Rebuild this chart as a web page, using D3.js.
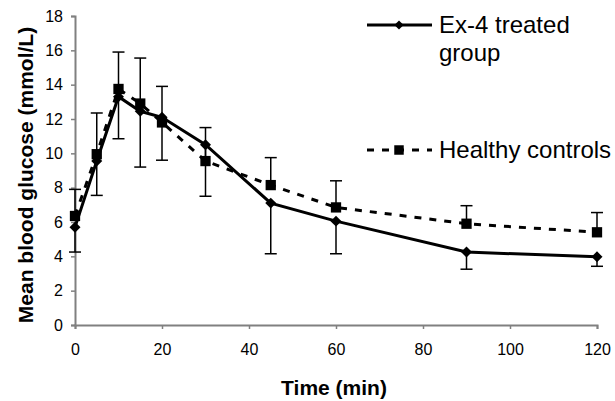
<!DOCTYPE html>
<html lang="en">
<head>
    <meta charset="UTF-8">
    <title>Mean blood glucose</title>
    <script src="https://d3js.org/d3.v7.min.js"></script>
    <style>
        body { margin: 0; background: #fff; }
        svg { font-family: "Liberation Sans", Arial, sans-serif; }
    </style>
</head>
<body>
<svg width="615" height="401"></svg>
<script>

    // Data
    const times = [0, 5, 10, 15, 20, 30, 45, 60, 90, 120];
    const ex4Mean = [5.7, 9.55, 13.3, 12.45, 12.1, 10.5, 7.1, 6.05, 4.25, 3.97];
    const ex4ErrMinus = [1.45, 2.0, 2.45, 3.25, 2.5, 3.0, 2.95, 1.9, 1.0, 0.55];
    const healthyMean = [6.35, 9.95, 13.75, 12.9, 11.8, 9.55, 8.15, 6.85, 5.9, 5.4];
    const healthyErrPlus = [1.55, 2.4, 2.15, 2.65, 2.1, 1.95, 1.6, 1.55, 1.05, 1.15];
    const xTicks = [0, 20, 40, 60, 80, 100, 120];
    const yTicks = [0, 2, 4, 6, 8, 10, 12, 14, 16, 18];

    const svg = d3.select("svg");

    // Scales
    const x = d3.scaleLinear().domain([0, 120]).range([75, 597]);
    const y = d3.scaleLinear().domain([0, 18]).range([325, 16]);

    // Axes
    const xAxis = svg.append("g")
        .attr("transform", "translate(0," + y(0) + ")")
        .call(d3.axisBottom(x).tickValues(xTicks).tickSize(4).tickPadding(15));
    const yAxis = svg.append("g")
        .attr("transform", "translate(" + x(0) + ",0)")
        .call(d3.axisLeft(y).tickValues(yTicks).tickSize(4).tickPadding(8));

    [xAxis, yAxis].forEach(function (a) {
        a.select(".domain").attr("stroke", "#808080").attr("stroke-width", 2);
        a.selectAll(".tick line").attr("stroke", "#808080").attr("stroke-width", 1.5);
        a.selectAll(".tick text").attr("fill", "#000").attr("font-size", 16)
            .attr("font-family", "Liberation Sans, Arial, sans-serif");
    });

    // Axis titles
    svg.append("text")
        .attr("x", 334).attr("y", 395)
        .attr("text-anchor", "middle")
        .attr("font-size", 21).attr("font-weight", "bold")
        .text("Time (min)");
    svg.append("text")
        .attr("transform", "translate(33,175) rotate(-90)")
        .attr("text-anchor", "middle")
        .attr("font-size", 21).attr("font-weight", "bold")
        .text("Mean blood glucose (mmol/L)");

    const ex4 = times.map((t, i) => ({t: t, v: ex4Mean[i], lo: ex4Mean[i] - ex4ErrMinus[i]}));
    const healthy = times.map((t, i) => ({t: t, v: healthyMean[i], hi: healthyMean[i] + healthyErrPlus[i]}));

    const line = d3.line().x(d => x(d.t)).y(d => y(d.v));
    const cap = 6;

    // Error bars
    function errBars(data, key) {
        const g = svg.append("g").attr("stroke", "#000").attr("stroke-width", 1.5);
        data.forEach(function (d) {
            g.append("line").attr("x1", x(d.t)).attr("x2", x(d.t))
                .attr("y1", y(d.v)).attr("y2", y(d[key]));
            g.append("line").attr("x1", x(d.t) - cap).attr("x2", x(d.t) + cap)
                .attr("y1", y(d[key])).attr("y2", y(d[key]));
        });
    }
    errBars(healthy, "hi");
    errBars(ex4, "lo");

    // Lines
    svg.append("path").datum(healthy)
        .attr("d", line).attr("fill", "none")
        .attr("stroke", "#000").attr("stroke-width", 3)
        .attr("stroke-dasharray", "7,8");
    svg.append("path").datum(ex4)
        .attr("d", line).attr("fill", "none")
        .attr("stroke", "#000").attr("stroke-width", 3);

    // Markers
    const square = d3.symbol().type(d3.symbolSquare);
    svg.append("g").selectAll("path").data(healthy).join("path")
        .attr("transform", d => "translate(" + x(d.t) + "," + y(d.v) + ")")
        .attr("d", square.size(106)).attr("fill", "#000");
    svg.append("g").selectAll("path").data(ex4).join("path")
        .attr("transform", d => "translate(" + x(d.t) + "," + y(d.v) + ") rotate(45)")
        .attr("d", square.size(60)).attr("fill", "#000");

    // Legend
    const lg = svg.append("g");
    lg.append("line").attr("x1", 367).attr("x2", 432).attr("y1", 25).attr("y2", 25)
        .attr("stroke", "#000").attr("stroke-width", 3);
    lg.append("path").attr("transform", "translate(399,25) rotate(45)")
        .attr("d", d3.symbol().type(d3.symbolSquare).size(42)).attr("fill", "#000");
    lg.append("text").attr("x", 439).attr("y", 33).attr("font-size", 24).text("Ex-4 treated");
    lg.append("text").attr("x", 439).attr("y", 61).attr("font-size", 24).text("group");

    lg.append("line").attr("x1", 367).attr("x2", 432).attr("y1", 150).attr("y2", 150)
        .attr("stroke", "#000").attr("stroke-width", 3).attr("stroke-dasharray", "7,8");
    lg.append("path").attr("transform", "translate(399,150)")
        .attr("d", d3.symbol().type(d3.symbolSquare).size(90)).attr("fill", "#000");
    lg.append("text").attr("x", 439).attr("y", 158).attr("font-size", 24).text("Healthy controls");

</script>
</body>
</html>
